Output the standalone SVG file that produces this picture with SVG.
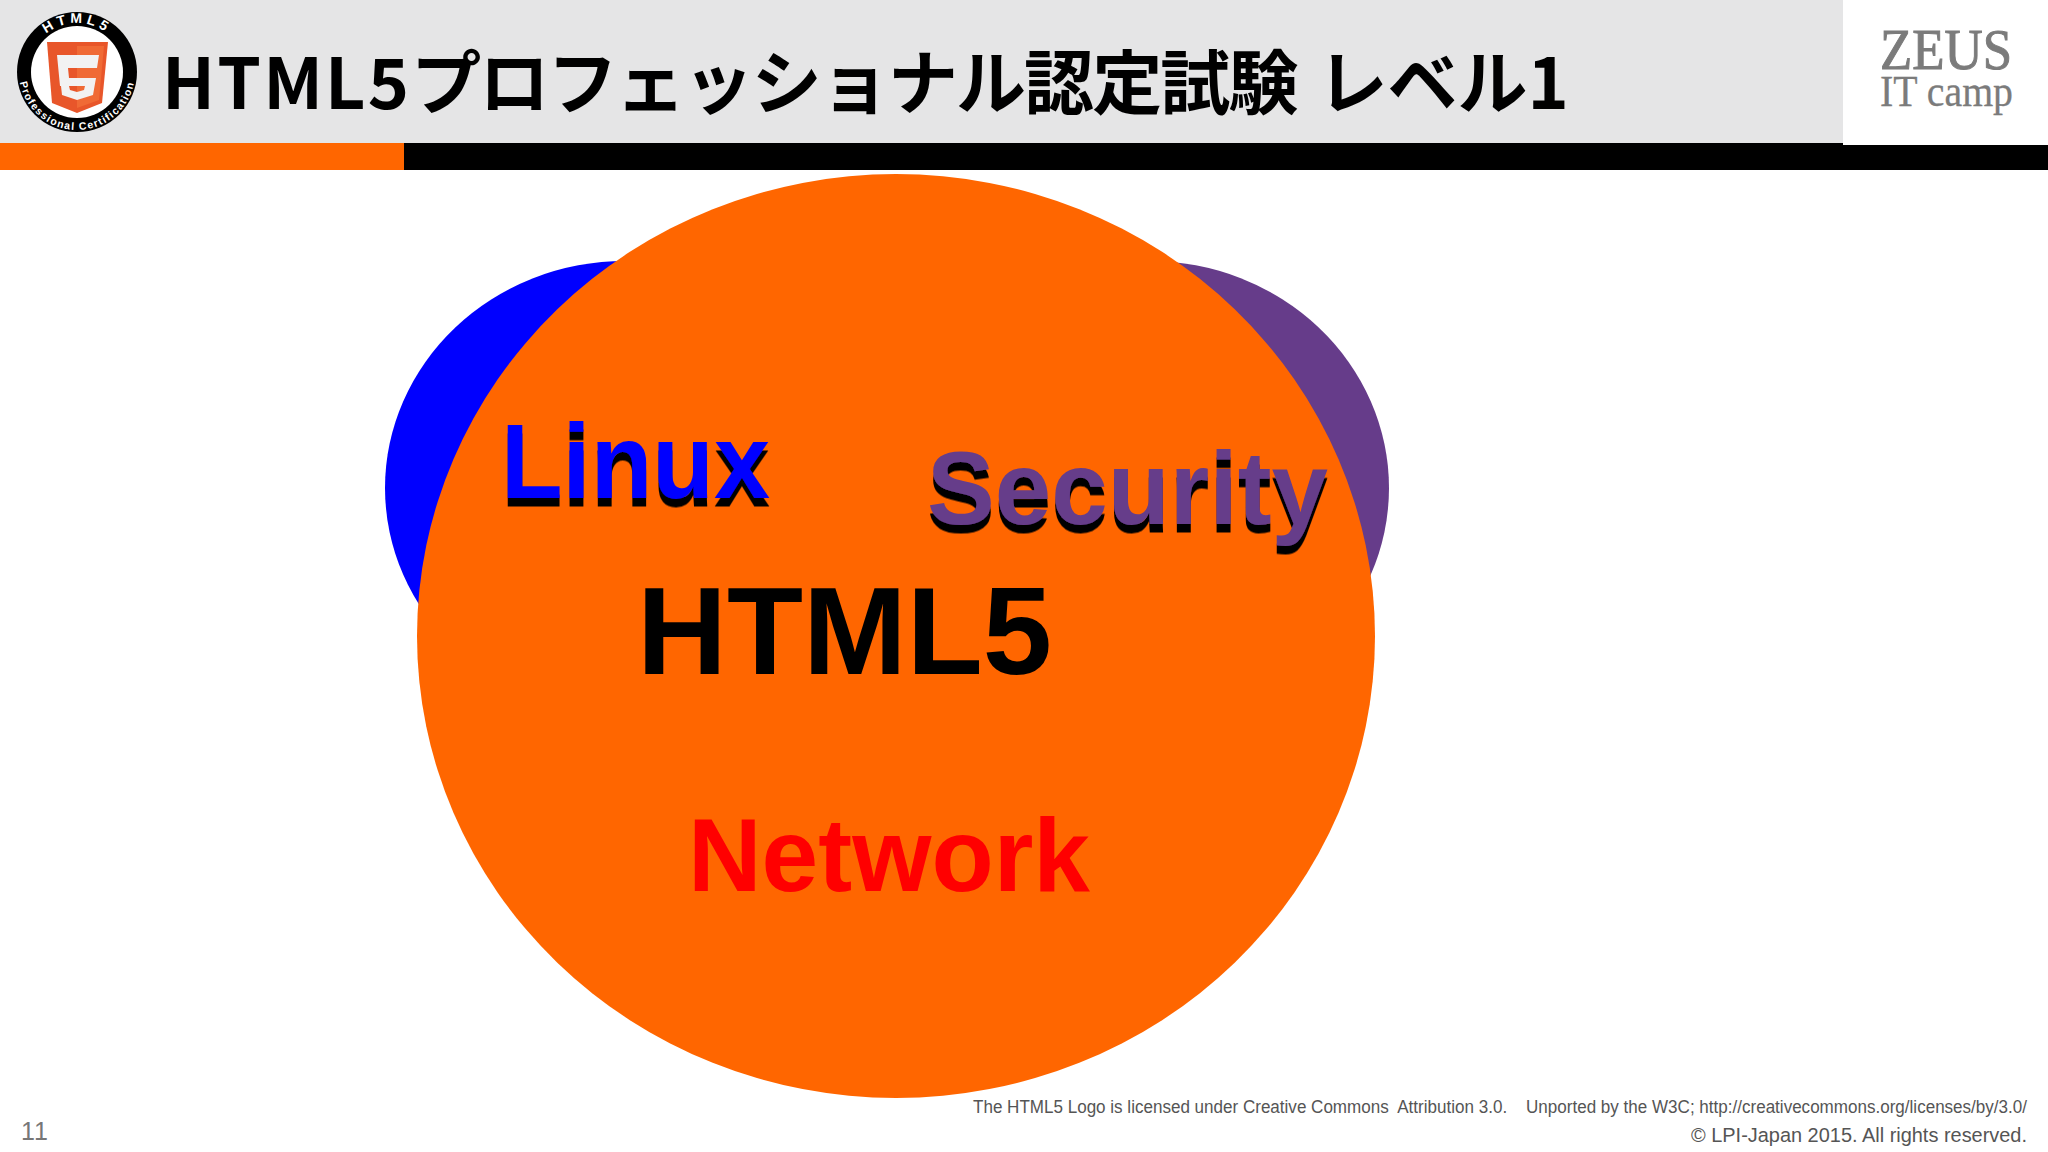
<svg xmlns="http://www.w3.org/2000/svg" width="2048" height="1152" viewBox="0 0 2048 1152">
<style>
.a{font-family:"Liberation Sans",Arial,sans-serif;font-weight:700}
.s{font-family:"Liberation Sans",Arial,sans-serif;fill:#555}
.z{font-family:"Liberation Serif",serif;fill:#7b7b7b}
.b{font-family:"Liberation Sans",Arial,sans-serif;font-weight:700;fill:#fff}
</style>
<defs>
<path id="top" d="M28 72A49 49 0 0 1 126 72"/>
<path id="bot" d="M19 72A58 58 0 0 0 135 72"/>
<filter id="shadow" x="-5%" y="-10%" width="110%" height="130%"><feDropShadow dx="0" dy="8.5" stdDeviation="0" flood-color="#000"/></filter>
</defs>
<rect width="2048" height="1152" fill="#fff"/>
<g id="header">
<rect width="2048" height="143" fill="#e5e5e6"/>
<rect x="1843" width="205" height="145" fill="#fff"/>
<rect y="145" x="1843" width="205" height="25" fill="#000"/>
<rect y="143" width="1843" height="27" fill="#000"/>
<rect y="143" width="404" height="27" fill="#ff6600"/>
<text x="162" y="109" font-family="'Noto Sans CJK JP',sans-serif" font-weight="700" font-size="70"><tspan letter-spacing="2.2">HTML5</tspan><tspan letter-spacing="-1.9">プロフェッショナル認定試験</tspan><tspan dx="5"> レベル1</tspan></text>
</g>
<g id="logo">
<circle cx="77" cy="72" r="60" fill="#000"/>
<circle cx="77" cy="72" r="46" fill="#fff"/>
<polygon points="47,42 108,42 102,103 77,113 52,103" fill="#e8562a"/>
<polygon points="77,46 104,46 99,100 77,108" fill="#f06a35"/>
<path d="M57 55H99L97 68H68L69 78H96L93 95L77 100L62 95L61 86H69L70 90L77 92L84 90L85 86H60Z" fill="#f2f2f2"/>
<text class="b" font-size="14" letter-spacing="4"><textPath href="#top" startOffset="50%" text-anchor="middle">HTML5</textPath></text>
<text class="b" font-size="10.5" letter-spacing="1.3"><textPath href="#bot" startOffset="50%" text-anchor="middle">Professional Certification</textPath></text>
</g>
<g id="zeus">
<text class="z" x="1880" y="69" font-size="56" stroke="#7b7b7b" stroke-width="1" textLength="132" lengthAdjust="spacingAndGlyphs">ZEUS</text>
<text class="z" x="1880" y="106" font-size="45" stroke="#7b7b7b" stroke-width="0.3" textLength="133" lengthAdjust="spacingAndGlyphs">IT camp</text>
</g>
<g id="venn">
<ellipse id="linux-circle" cx="625" cy="488" rx="240" ry="227" fill="#0000ff"/>
<ellipse id="security-circle" cx="1149" cy="488" rx="240" ry="227" fill="#663c8a"/>
<ellipse id="html5-circle" cx="896" cy="636" rx="479" ry="462" fill="#ff6600"/>
</g>
<g id="linux">
<text class="a" x="501" y="498" font-size="106" fill="#0000ff" filter="url(#shadow)" textLength="269" lengthAdjust="spacingAndGlyphs">Linux</text>
</g>
<g id="security">
<text class="a" x="927" y="524" font-size="104" fill="#663c8a" filter="url(#shadow)" textLength="401" lengthAdjust="spacingAndGlyphs">Security</text>
</g>
<g id="html5">
<text class="a" x="637" y="674" font-size="125" fill="#000" textLength="415" lengthAdjust="spacingAndGlyphs">HTML5</text>
</g>
<g id="network">
<text class="a" x="688" y="891" font-size="104" fill="#ff0000" textLength="402" lengthAdjust="spacingAndGlyphs">Network</text>
</g>
<g id="footer">
<text class="s" x="21" y="1140" font-size="25" letter-spacing="1" style="fill:#777">11</text>
<text class="s" x="973" y="1113" font-size="17.5" textLength="1054" lengthAdjust="spacingAndGlyphs" style="white-space:pre">The HTML5 Logo is licensed under Creative Commons  Attribution 3.0.    Unported by the W3C; http://creativecommons.org/licenses/by/3.0/</text>
<text class="s" x="1691" y="1142" font-size="20.5" textLength="336" lengthAdjust="spacingAndGlyphs">© LPI-Japan 2015. All rights reserved.</text>
</g>
</svg>
